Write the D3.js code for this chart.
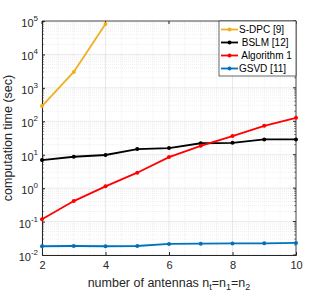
<!DOCTYPE html>
<html><head><meta charset="utf-8">
<script src="https://cdn.jsdelivr.net/npm/d3@7"></script>
<style>body{margin:0;background:#fff}svg{display:block}text{font-family:"Liberation Sans",Arial,sans-serif}</style>
</head><body><svg id="c" width="327" height="295"></svg>
<script>
const antennas = [2,3,4,5,6,7,8,9,10];
const sdpcX = [2,3,4];
const sdpc = [285, 3000, 81000];
const bslm = [6.9, 8.7, 9.8, 14.7, 15.8, 22, 22.7, 28.7, 28.7];
const alg1 = [0.118, 0.41, 1.13, 2.9, 8.5, 18.5, 36, 73, 127];
const gsvd = [0.0183, 0.0186, 0.0183, 0.0186, 0.0214, 0.0218, 0.0222, 0.0224, 0.023];
const xTicks = [2,4,6,8,10];
const yTickExps = [-2,-1,0,1,2,3,4,5];
const seriesNames = ["S-DPC [9]", " BSLM [12]", " Algorithm 1", "GSVD [11]"];
const seriesColors = ["#EDB120", "#000000", "#FF0000", "#0072BD"];

const svg = d3.select("#c");
const L=42, R=296, T=21, B=255;
const x = d3.scaleLinear().domain([2,10]).range([L,R]);
const y = d3.scaleLog().domain([1e-2,1e5]).range([B,T]);

const g = svg.append("g");
// minor grid
for (let v=2; v<=10; v+=0.5) {
  if (v%2===0) continue;
  g.append("line").attr("x1",x(v)).attr("x2",x(v)).attr("y1",T).attr("y2",B)
   .attr("stroke","#e6e6e6").attr("stroke-width",0.6).attr("stroke-dasharray","1,1");
}
for (let e=-2; e<5; e++) for (let m=2; m<=9; m++) {
  const v = m*Math.pow(10,e);
  g.append("line").attr("x1",L).attr("x2",R).attr("y1",y(v)).attr("y2",y(v))
   .attr("stroke","#e6e6e6").attr("stroke-width",0.6).attr("stroke-dasharray","1,1");
}
// major grid
xTicks.forEach(v=>g.append("line").attr("x1",x(v)).attr("x2",x(v)).attr("y1",T).attr("y2",B)
  .attr("stroke","#e0e0e0").attr("stroke-width",0.7));
yTickExps.forEach(e=>g.append("line").attr("x1",L).attr("x2",R).attr("y1",y(Math.pow(10,e))).attr("y2",y(Math.pow(10,e)))
  .attr("stroke","#e0e0e0").attr("stroke-width",0.7));

// axes
const xAxis = d3.axisBottom(x).tickValues(xTicks).tickSize(-3).tickPadding(6).tickFormat(d3.format("d"));
const ax = svg.append("g").attr("transform",`translate(0,${B})`).call(xAxis);
ax.select(".domain").attr("stroke","#262626");
ax.selectAll("text").attr("font-size",11).attr("fill","#262626").attr("font-family","Liberation Sans, Arial, sans-serif");
ax.selectAll(".tick line").attr("stroke","#262626");

const yAxis = d3.axisLeft(y).tickValues(yTickExps.map(e=>Math.pow(10,e))).tickSize(-3).tickPadding(5).tickFormat("");
const ay = svg.append("g").attr("transform",`translate(${L},0)`).call(yAxis);
ay.select(".domain").attr("stroke","#262626");
ay.selectAll(".tick line").attr("stroke","#262626");
yTickExps.forEach(e=>{
  const t = svg.append("text").attr("x",L-4).attr("y",y(Math.pow(10,e))+6).attr("text-anchor","end")
    .attr("font-size",11).attr("fill","#262626");
  t.append("tspan").text("10");
  t.append("tspan").attr("dy",-6).attr("font-size",8).text(String(e));
});
// minor y ticks
for (let e=-2; e<5; e++) for (let m=2; m<=9; m++) {
  const v=m*Math.pow(10,e);
  svg.append("line").attr("x1",L).attr("x2",L+1.8).attr("y1",y(v)).attr("y2",y(v)).attr("stroke","#262626").attr("stroke-width",0.6);
  svg.append("line").attr("x1",R).attr("x2",R-1.8).attr("y1",y(v)).attr("y2",y(v)).attr("stroke","#262626").attr("stroke-width",0.6);
}
// top/right box
svg.append("line").attr("x1",L).attr("x2",R).attr("y1",T).attr("y2",T).attr("stroke","#262626").attr("stroke-width",0.8);
svg.append("line").attr("x1",R).attr("x2",R).attr("y1",T).attr("y2",B).attr("stroke","#262626").attr("stroke-width",0.8);
xTicks.forEach(v=>svg.append("line").attr("x1",x(v)).attr("x2",x(v)).attr("y1",T).attr("y2",T+3).attr("stroke","#262626"));
yTickExps.forEach(e=>svg.append("line").attr("x1",R).attr("x2",R-3).attr("y1",y(Math.pow(10,e))).attr("y2",y(Math.pow(10,e))).attr("stroke","#262626"));

// series
const series = [
  {xs: sdpcX, ys: sdpc},
  {xs: antennas, ys: bslm},
  {xs: antennas, ys: alg1},
  {xs: antennas, ys: gsvd}
];
const line = d3.line().x(d=>x(d[0])).y(d=>y(d[1]));
series.forEach((s,i)=>{
  const pts = s.xs.map((v,j)=>[v,s.ys[j]]);
  svg.append("path").datum(pts).attr("d",line).attr("fill","none").attr("stroke",seriesColors[i]).attr("stroke-width",1.8);
  svg.selectAll(null).data(pts).enter().append("circle").attr("cx",d=>x(d[0])).attr("cy",d=>y(d[1])).attr("r",2)
    .attr("fill",seriesColors[i]);
});

// legend
const lg = svg.append("g");
lg.append("rect").attr("x",219).attr("y",T).attr("width",R-219).attr("height",55).attr("fill","#fff").attr("stroke","#262626").attr("stroke-width",0.7);
seriesNames.forEach((n,i)=>{
  const yy = T+8.5+i*13;
  lg.append("line").attr("x1",221).attr("x2",238).attr("y1",yy).attr("y2",yy).attr("stroke",seriesColors[i]).attr("stroke-width",1.8);
  lg.append("circle").attr("cx",229.5).attr("cy",yy).attr("r",2).attr("fill",seriesColors[i]);
  lg.append("text").attr("x",239).attr("y",yy+3.6).attr("font-size",10).attr("fill","#000").style("white-space","pre").text(n);
});

// labels
const xl = svg.append("text").attr("x",(L+R)/2).attr("y",287).attr("text-anchor","middle").attr("font-size",12.5).attr("fill","#262626");
xl.append("tspan").text("number of antennas n");
xl.append("tspan").attr("dy",3).attr("font-size",9).text("t");
xl.append("tspan").attr("dy",-3).text("=n");
xl.append("tspan").attr("dy",3).attr("font-size",9).text("1");
xl.append("tspan").attr("dy",-3).text("=n");
xl.append("tspan").attr("dy",3).attr("font-size",9).text("2");
svg.append("text").attr("transform",`translate(12,${(T+B)/2}) rotate(-90)`).attr("text-anchor","middle")
  .attr("font-size",12.5).attr("fill","#262626").text("computation time (sec)");
</script></body></html>
